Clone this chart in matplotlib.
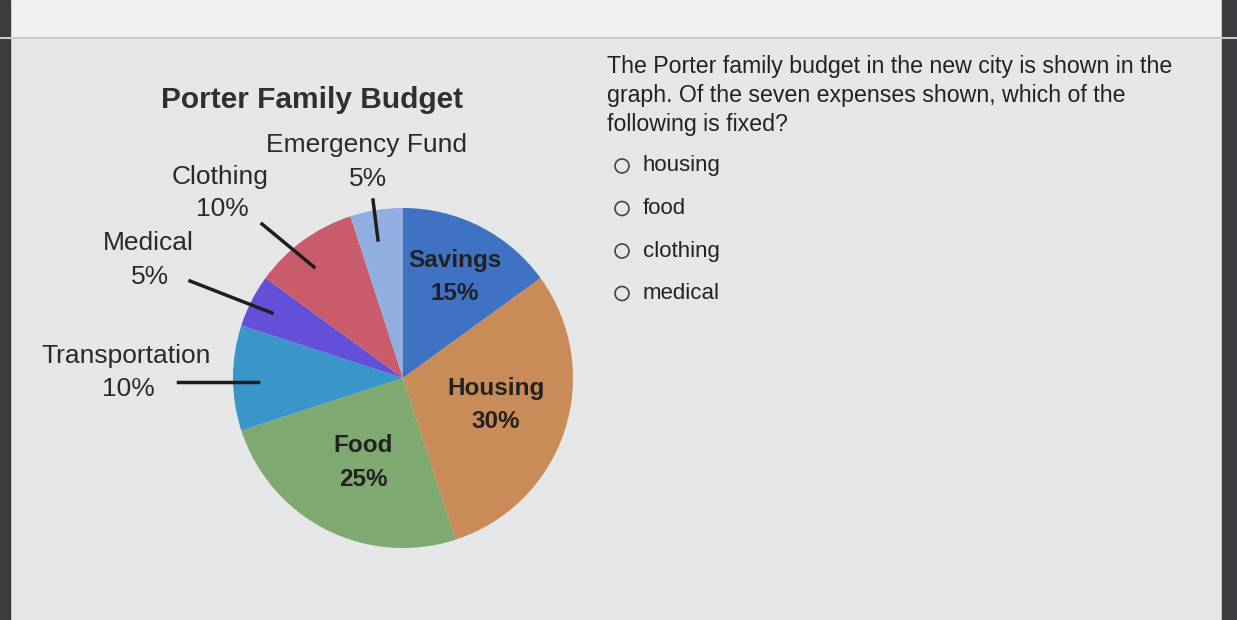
import matplotlib.pyplot as plt
from matplotlib.patches import Circle, Rectangle

plt.rcParams['font.family'] = ['Liberation Sans', 'DejaVu Sans']

# Budget data
categories = ['Savings', 'Housing', 'Food', 'Transportation', 'Medical', 'Clothing', 'Emergency Fund']
shares = [15, 30, 25, 10, 5, 10, 5]
colors = ['#3f72c2', '#c98b58', '#7fa970', '#3a96c8', '#6450d8', '#c95b6b', '#90aee0']
options = ['housing', 'food', 'clothing', 'medical']

W, H = 1237, 620
fig = plt.figure(figsize=(W / 100, H / 100), dpi=100)
fig.patch.set_facecolor('#e4e6e8')
ax = fig.add_axes([0, 0, 1, 1])

def Y(y):
    return H - y

ax.pie(shares, colors=colors, startangle=90, counterclock=False,
       center=(403, Y(378)), radius=170, frame=True,
       wedgeprops=dict(edgecolor='none'))
ax.set_xlim(0, W)
ax.set_ylim(0, H)
ax.set_aspect('equal')
ax.axis('off')

# top band and screen edges
ax.add_patch(Rectangle((0, Y(38)), W, 38, color='#eef0f2', zorder=0))
ax.plot([0, W], [Y(38), Y(38)], color='#c8cacc', lw=1.5)
ax.add_patch(Rectangle((1222, 0), 15, H, color='#3a3c40', zorder=0))
ax.add_patch(Rectangle((0, 0), 10, H, color='#3a3c40', zorder=0))

tc = '#2a2a2a'
ax.text(312, Y(100), 'Porter Family Budget', fontsize=21.5, fontweight='bold', color='#303030', ha='center', va='center')

labels = [
    ('Emergency Fund', 366, 145), ('5%', 368, 179),
    ('Clothing', 220, 177), ('10%', 222, 209),
    ('Medical', 148, 243), ('5%', 150, 277),
    ('Transportation', 126, 356), ('10%', 128, 389),
]
for t, x, y in labels:
    ax.text(x, Y(y), t, fontsize=19, color=tc, ha='center', va='center')

inner = [('Savings', 455, 260), ('15%', 455, 293), ('Housing', 496, 388), ('30%', 496, 421),
         ('Food', 363, 446), ('25%', 363, 479)]
for t, x, y in inner:
    ax.text(x, Y(y), t, fontsize=17.5, color='#222222', ha='center', va='center', fontweight='bold')

leaders = [((373, 200), (378, 240)), ((262, 224), (314, 267)),
           ((190, 281), (272, 313)), ((178, 382), (258, 382))]
for (x0, y0), (x1, y1) in leaders:
    ax.plot([x0, x1], [Y(y0), Y(y1)], color='#1e1e1e', lw=2.5)

q = ['The Porter family budget in the new city is shown in the',
     'graph. Of the seven expenses shown, which of the',
     'following is fixed?']
for i, line in enumerate(q):
    ax.text(607, Y(67 + i * 28.5), line, fontsize=16.7, color='#222222', ha='left', va='center')

for i, o in enumerate(options):
    y = 166 + i * 42.5
    ax.add_patch(Circle((622, Y(y)), 7, fill=False, edgecolor='#444444', lw=1.2))
    ax.text(643, Y(y), o, fontsize=16, color='#222222', ha='left', va='center')

fig.savefig('out.png', dpi=100, facecolor=fig.get_facecolor())
